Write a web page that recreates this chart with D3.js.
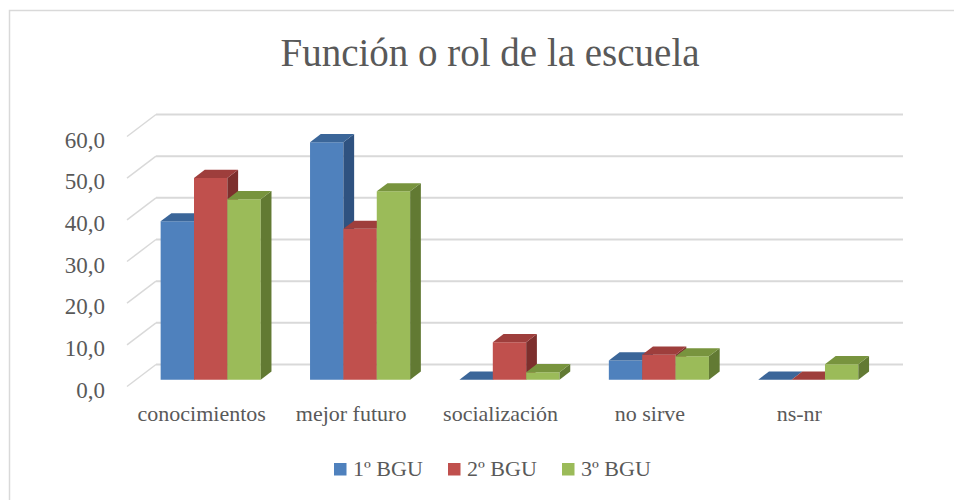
<!DOCTYPE html>
<html>
<head>
<meta charset="utf-8">
<script src="https://cdn.jsdelivr.net/npm/d3@7"></script>
<style>
body { margin: 0; background: #fff; }
text { font-family: "Liberation Serif", serif; fill: #595959; }
</style>
</head>
<body>
<div id="chart"></div>
<script>
var width = 954;
var height = 500;

// chart data
var categories = ["conocimientos", "mejor futuro", "socialización", "no sirve", "ns-nr"];
var seriesNames = ["1º BGU", "2º BGU", "3º BGU"];
var primero = [38.0, 57.0, 0.0, 4.6, 0.0];
var segundo = [48.4, 36.2, 9.0, 6.0, 0.0];
var tercero = [43.3, 45.2, 1.8, 5.6, 3.7];
var yTicks = [0, 10, 20, 30, 40, 50, 60];

var seriesValues = [primero, segundo, tercero];

// colours for front, top and side faces of each series
var faceFront = ["#4f81bd", "#c0504d", "#9bbb59"];
var faceTop = ["#3b6699", "#9e3e3c", "#78943e"];
var faceSide = ["#2f5280", "#7d2f2d", "#627a33"];

var svg = d3.select("#chart").append("svg")
.attr("width", width)
.attr("height", height);

// outer frame, runs past the right and bottom edge
svg.append("rect")
.attr("x", 9.5)
.attr("y", 10.5)
.attr("width", 1000)
.attr("height", 600)
.attr("fill", "none")
.attr("stroke", "#d9d9d9")
.attr("stroke-width", 1.5);

svg.append("text")
.attr("x", 490)
.attr("y", 66)
.attr("text-anchor", "middle")
.style("font-size", "39px")
.text("Función o rol de la escuela");

// depth of the floor (back wall sits up and right of the front edge)
var depthX = 29;
var depthY = -22;
// bars sit in the middle part of the depth
var barFront = 0.31;
var barBack = 0.68;

var x = d3.scaleBand()
.domain(categories)
.range([127, 874])
.paddingInner(0.33)
.paddingOuter(0.165);

var xSub = d3.scaleBand()
.domain(d3.range(seriesNames.length))
.range([0, x.bandwidth()]);

var y = d3.scaleLinear()
.domain([0, 60])
.range([386.5, 136.5]);

// gridlines: slanted bit on the side wall plus line along the back wall
var grid = svg.append("g").attr("class", "grid");
grid.selectAll("line.side")
.data(yTicks)
.enter().append("line")
.attr("class", "side")
.attr("x1", x.range()[0])
.attr("y1", function(d) { return y(d); })
.attr("x2", x.range()[0] + depthX)
.attr("y2", function(d) { return y(d) + depthY; })
.attr("stroke", "#d9d9d9")
.attr("stroke-width", 1.5);

grid.selectAll("line.back")
.data(yTicks)
.enter().append("line")
.attr("class", "back")
.attr("x1", x.range()[0] + depthX)
.attr("y1", function(d) { return y(d) + depthY; })
.attr("x2", x.range()[1] + depthX)
.attr("y2", function(d) { return y(d) + depthY; })
.attr("stroke", "#d9d9d9")
.attr("stroke-width", 2);

// y labels
svg.append("g")
.selectAll("text")
.data(yTicks)
.enter().append("text")
.attr("x", 105)
.attr("y", function(d) { return y(d) + 3; })
.attr("dy", "0.35em")
.attr("text-anchor", "end")
.style("font-size", "23px")
.text(function(d) { return d3.format(".1f")(d).replace(".", ","); });

// category labels on the front edge of the floor
svg.append("g")
.selectAll("text")
.data(categories)
.enter().append("text")
.attr("x", function(d) { return x(d) + x.bandwidth() / 2; })
.attr("y", 421)
.attr("text-anchor", "middle")
.style("font-size", "22px")
.text(function(d) { return d; });

// flatten bars into a list, drawn left to right so later bars hide earlier sides
var bars = [];
categories.forEach(function(c, ci) {
    seriesValues.forEach(function(vals, si) {
    bars.push({cat: c, s: si, value: vals[ci]});
    });
});

var fx = barFront * depthX, fy = barFront * depthY;
var dx = (barBack - barFront) * depthX, dy = (barBack - barFront) * depthY;

function pts(arr) {
return arr.map(function(p) { return p.join(","); }).join(" ");
}

var barG = svg.append("g").attr("class", "bars");
bars.forEach(function(b) {
    var x0 = x(b.cat) + xSub(b.s) + fx;
    var x1 = x0 + xSub.bandwidth();
    var yb = y(0) + fy;
    var yt = y(b.value) + fy;
    var g = barG.append("g");
    if (b.value > 0) {
    g.append("polygon")
        .attr("points", pts([[x0, yb], [x1, yb], [x1, yt], [x0, yt]]))
        .attr("fill", faceFront[b.s]);
    g.append("polygon")
        .attr("points", pts([[x1, yb], [x1 + dx, yb + dy], [x1 + dx, yt + dy], [x1, yt]]))
        .attr("fill", faceSide[b.s]);
    }
    g.append("polygon")
    .attr("points", pts([[x0, yt], [x1, yt], [x1 + dx, yt + dy], [x0 + dx, yt + dy]]))
    .attr("fill", faceTop[b.s]);
});

// legend
var legendX = [334, 448, 562];
var legend = svg.append("g").attr("class", "legend");
seriesNames.forEach(function(name, i) {
    legend.append("rect")
    .attr("x", legendX[i])
    .attr("y", 463)
    .attr("width", 12.5)
    .attr("height", 12.5)
    .attr("fill", faceFront[i]);
    legend.append("text")
    .attr("x", legendX[i] + 19)
    .attr("y", 476)
    .style("font-size", "22px")
    .text(name);
});
</script>
</body>
</html>
